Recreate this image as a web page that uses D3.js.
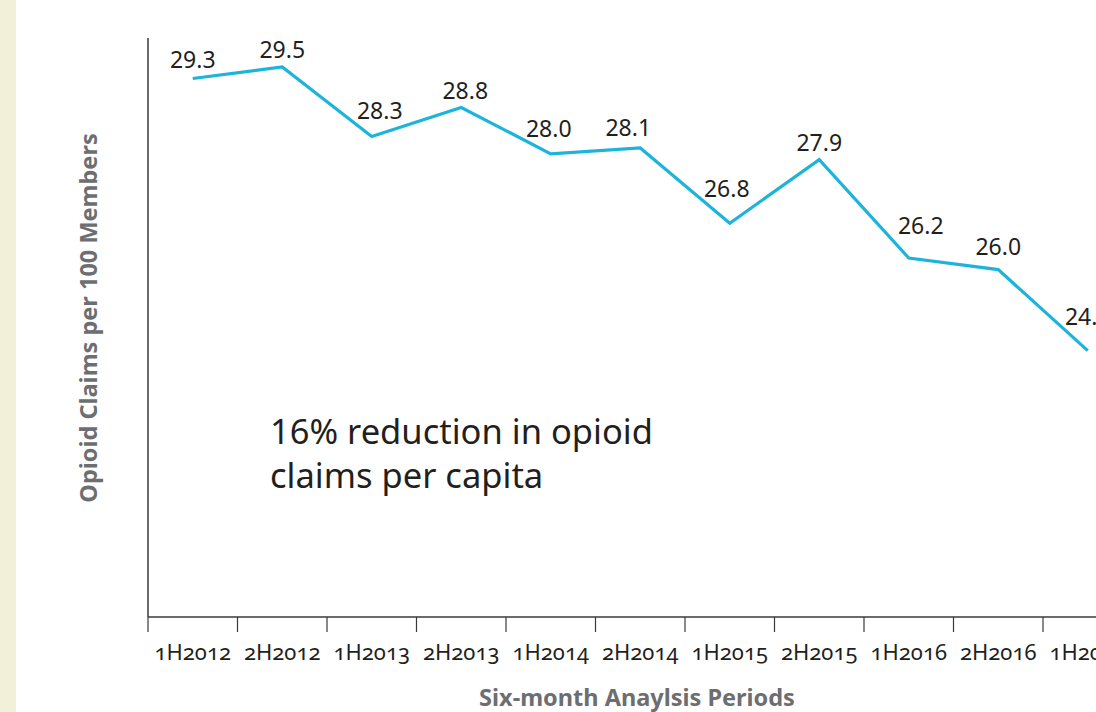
<!DOCTYPE html>
<html>
<head>
<meta charset="utf-8">
<script src="https://cdn.jsdelivr.net/npm/d3@7"></script>
<style>
  body { margin: 0; background: #fff; overflow: hidden; }
  svg { display: block; font-family: "Noto Sans", "Open Sans", sans-serif; }
  .tick-label { font-variant-numeric: oldstyle-nums; font-feature-settings: "onum"; }
</style>
</head>
<body>
<svg id="chart"></svg>
<script>
const periods = ["1H2012", "2H2012", "1H2013", "2H2013", "1H2014", "2H2014",
                 "1H2015", "2H2015", "1H2016", "2H2016", "1H2017"];
const claims = [29.3, 29.5, 28.3, 28.8, 28.0, 28.1, 26.8, 27.9, 26.2, 26.0, 24.6];
const yDomain = [20, 30];

// label nudges [dx, dy] relative to point
const labelNudge = [[0, -11], [0, -9], [8, -17], [4, -8], [-2, -17], [-12, -12],
                    [-3, -26], [0, -9], [12, -24], [0, -15], [0, -26]];

let width = 1096, height = 712;
const svg = d3.select("#chart").attr("width", width).attr("height", height);

const margin = {left: 148, top: 38, bottom: 617};

// beige strip on the left
svg.append("rect")
    .attr("x", 0).attr("y", 0)
    .attr("width", 16).attr("height", height)
    .attr("fill", "#f3f0da");

const x = d3.scaleBand()
    .domain(periods)
    .range([margin.left, margin.left + 89.5 * periods.length]);

const y = d3.scaleLinear()
    .domain(yDomain)
    .range([margin.bottom, margin.top]);

// y axis line (no ticks)
svg.append("line")
    .attr("x1", margin.left).attr("x2", margin.left)
    .attr("y1", margin.top).attr("y2", margin.bottom)
    .attr("stroke", "#3a3a3a").attr("stroke-width", 1.5);

// x axis with ticks on band edges
const xAxis = svg.append("g");
xAxis.append("line")
    .attr("x1", margin.left).attr("x2", width)
    .attr("y1", margin.bottom).attr("y2", margin.bottom)
    .attr("stroke", "#3a3a3a").attr("stroke-width", 1.5);

xAxis.selectAll("line.tk")
    .data(periods)
    .enter().append("line")
    .attr("class", "tk")
    .attr("x1", d => x(d)).attr("x2", d => x(d))
    .attr("y1", margin.bottom).attr("y2", margin.bottom + 15)
    .attr("stroke", "#3a3a3a").attr("stroke-width", 1.2);

xAxis.selectAll("text")
    .data(periods)
    .enter().append("text")
    .attr("class", "tick-label")
    .attr("x", d => x(d) + x.bandwidth() / 2)
    .attr("y", 660)
    .attr("text-anchor", "middle")
    .attr("font-size", 22)
    .attr("fill", "#231f20")
    .text(d => d);

// line
const line = d3.line()
    .x((d, i) => x(periods[i]) + x.bandwidth() / 2)
    .y(d => y(d));

svg.append("path")
    .datum(claims)
    .attr("d", line)
    .attr("fill", "none")
    .attr("stroke", "#1db4dc")
    .attr("stroke-width", 3.2)
    .attr("stroke-linejoin", "miter");

// value labels
svg.selectAll("text.val")
    .data(claims)
    .enter().append("text")
    .attr("class", "val")
    .attr("x", (d, i) => x(periods[i]) + x.bandwidth() / 2 + labelNudge[i][0])
    .attr("y", (d, i) => y(d) + labelNudge[i][1])
    .attr("text-anchor", "middle")
    .attr("font-size", 23)
    .attr("fill", "#231f20")
    .text(d => d.toFixed(1));

// annotation
const note = svg.append("text")
    .attr("x", 270).attr("y", 444)
    .attr("font-size", 34.5)
    .attr("fill", "#231f20");
note.append("tspan").attr("x", 270).text("16% reduction in opioid");
note.append("tspan").attr("x", 270).attr("dy", 44).text("claims per capita");

// axis titles
svg.append("text")
    .attr("x", 637).attr("y", 706)
    .attr("text-anchor", "middle")
    .attr("font-size", 23.5)
    .attr("font-weight", "bold")
    .attr("fill", "#6d6e71")
    .text("Six-month Anaylsis Periods");

svg.append("text")
    .attr("transform", "translate(97,318) rotate(-90)")
    .attr("text-anchor", "middle")
    .attr("font-size", 23.5)
    .attr("font-weight", "bold")
    .attr("fill", "#6d6e71")
    .text("Opioid Claims per 100 Members");
</script>
</body>
</html>
